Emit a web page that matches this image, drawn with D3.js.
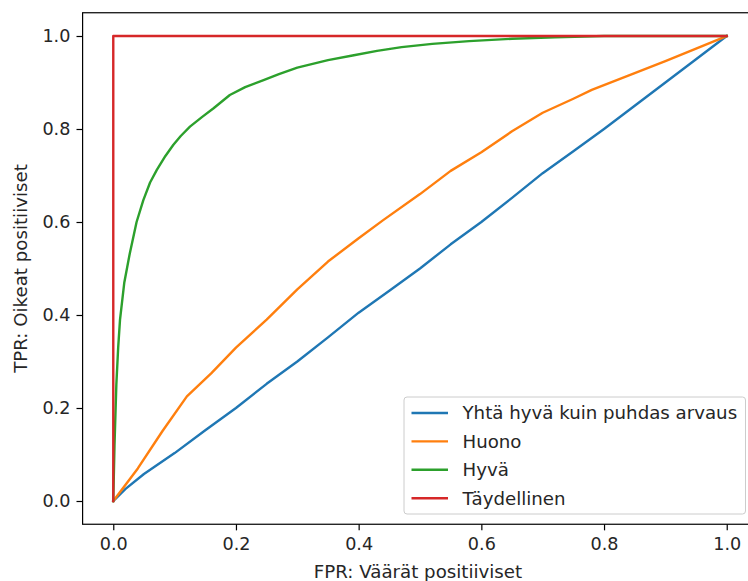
<!DOCTYPE html>
<html>
<head>
<meta charset="utf-8">
<script src="https://cdn.jsdelivr.net/npm/d3@7"></script>
<style>
  body { margin: 0; background: #fff; }
  text { font-family: "DejaVu Sans", sans-serif; fill: #262626; }
</style>
</head>
<body>
<div id="chart"></div>
<script>
// FPR / TPR pairs
var arvausFpr = [0, 0.02, 0.05, 0.1, 0.15, 0.2, 0.25, 0.3, 0.35, 0.4, 0.45, 0.5, 0.55, 0.6, 0.65, 0.7, 0.75, 0.8, 0.85, 0.9, 0.95, 1];
var arvausTpr = [0, 0.026, 0.058, 0.103, 0.152, 0.2, 0.252, 0.3, 0.352, 0.405, 0.452, 0.5, 0.552, 0.6, 0.652, 0.705, 0.752, 0.8, 0.85, 0.9, 0.95, 1];

var huonoFpr = [0, 0.04, 0.08, 0.12, 0.16, 0.2, 0.25, 0.3, 0.35, 0.4, 0.44, 0.5, 0.55, 0.6, 0.65, 0.7, 0.75, 0.78, 0.85, 0.9, 0.95, 1];
var huonoTpr = [0, 0.07, 0.15, 0.225, 0.275, 0.33, 0.39, 0.455, 0.515, 0.565, 0.604, 0.66, 0.71, 0.75, 0.795, 0.835, 0.865, 0.884, 0.92, 0.946, 0.973, 1];

var hyvaFpr = [0, 0.002, 0.005, 0.008, 0.011, 0.018, 0.027, 0.038, 0.049, 0.06, 0.071, 0.085, 0.098, 0.11, 0.125, 0.145, 0.163, 0.19, 0.215, 0.245, 0.27, 0.3, 0.35, 0.39, 0.43, 0.47, 0.52, 0.58, 0.65, 0.72, 0.8, 1];
var hyvaTpr = [0, 0.12, 0.25, 0.33, 0.39, 0.47, 0.533, 0.6, 0.647, 0.685, 0.712, 0.742, 0.766, 0.785, 0.805, 0.826, 0.844, 0.873, 0.89, 0.905, 0.918, 0.932, 0.948, 0.958, 0.968, 0.976, 0.983, 0.989, 0.994, 0.997, 1, 1];

var taydFpr = [0, 0, 1];
var taydTpr = [0, 1, 1];

var labels = ["Yhtä hyvä kuin puhdas arvaus", "Huono", "Hyvä", "Täydellinen"];
var colors = ["#1f77b4", "#ff7f0e", "#2ca02c", "#d62728"];
var ticks = [0, 0.2, 0.4, 0.6, 0.8, 1.0];

var series = [
  { name: labels[0], x: arvausFpr, y: arvausTpr },
  { name: labels[1], x: huonoFpr, y: huonoTpr },
  { name: labels[2], x: hyvaFpr, y: hyvaTpr },
  { name: labels[3], x: taydFpr, y: taydTpr }
];

var width = 748, height = 581;
var pLeft = 82.6, pRight = 757.4, pTop = 12.75, pBottom = 524.25;
var fs = "18.2px";

var svg = d3.select("#chart").append("svg")
  .attr("width", width)
  .attr("height", height);

var x = d3.scaleLinear().domain([-0.05, 1.05]).range([pLeft, pRight]);
var y = d3.scaleLinear().domain([-0.05, 1.05]).range([pBottom, pTop]);

var line = d3.line()
  .x(function(d) { return x(d[0]); })
  .y(function(d) { return y(d[1]); });

svg.append("g").selectAll("path")
  .data(series)
  .enter().append("path")
  .attr("fill", "none")
  .attr("stroke", function(d, i) { return colors[i]; })
  .attr("stroke-width", 2.4)
  .attr("stroke-linejoin", "round")
  .attr("stroke-linecap", "square")
  .attr("d", function(d) { return line(d.x.map(function(v, i) { return [v, d.y[i]]; })); });

// axes
var xAxis = svg.append("g")
  .attr("transform", "translate(0," + pBottom + ")")
  .call(d3.axisBottom(x).tickValues(ticks).tickFormat(d3.format(".1f")).tickSize(6.1).tickPadding(7.5));
var yAxis = svg.append("g")
  .attr("transform", "translate(" + pLeft + ",0)")
  .call(d3.axisLeft(y).tickValues(ticks).tickFormat(d3.format(".1f")).tickSize(6.1).tickPadding(6.1));

[xAxis, yAxis].forEach(function(a) {
  a.select(".domain").remove();
  a.selectAll("line").attr("stroke", "#000").attr("stroke-width", 1.2);
  a.selectAll("text").style("font-size", "17.6px").attr("fill", "#262626");
});

// frame
svg.append("rect")
  .attr("x", pLeft).attr("y", pTop)
  .attr("width", pRight - pLeft).attr("height", pBottom - pTop)
  .attr("fill", "none").attr("stroke", "#000").attr("stroke-width", 1.2);

svg.append("text")
  .attr("x", (pLeft + pRight) / 2 - 2).attr("y", 577.5)
  .attr("text-anchor", "middle")
  .style("font-size", fs)
  .text("FPR: Väärät positiiviset");

svg.append("text")
  .attr("transform", "translate(27," + ((pTop + pBottom) / 2) + ") rotate(-90)")
  .attr("text-anchor", "middle")
  .style("font-size", fs)
  .text("TPR: Oikeat positiiviset");

// legend
var leg = svg.append("g").attr("transform", "translate(404,397)");
leg.append("rect")
  .attr("width", 341.5).attr("height", 117).attr("rx", 3)
  .attr("fill", "#fff").attr("fill-opacity", 0.8)
  .attr("stroke", "#cccccc").attr("stroke-width", 1);

var items = leg.selectAll("g.item")
  .data(labels)
  .enter().append("g")
  .attr("class", "item")
  .attr("transform", function(d, i) { return "translate(0," + (16 + i * 28.4) + ")"; });
items.append("line")
  .attr("x1", 7.5).attr("x2", 44)
  .attr("stroke", function(d, i) { return colors[i]; })
  .attr("stroke-width", 2.4);
items.append("text")
  .attr("x", 58.5).attr("dy", "0.35em")
  .style("font-size", fs)
  .text(function(d) { return d; });
</script>
</body>
</html>
